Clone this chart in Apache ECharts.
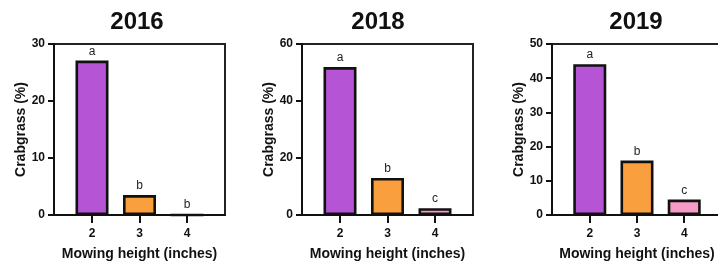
<!DOCTYPE html>
<html>
<head>
<meta charset="utf-8">
<script src="https://cdn.jsdelivr.net/npm/echarts@6/dist/echarts.min.js"></script>
<style>
html,body{margin:0;padding:0;background:#fff;}
#main{width:718px;height:263px;}
</style>
</head>
<body>
<div id="main"></div>
<script>
// 数据
var years = ['2016', '2018', '2019'];
var heights = [2, 3, 4];
var crab2016 = [27.1, 3.5, 0];
var crab2018 = [51.9, 13.0, 2.4];
var crab2019 = [44.1, 15.9, 4.5];
var letters2016 = ['a', 'b', 'b'];
var letters2018 = ['a', 'b', 'c'];
var letters2019 = ['a', 'b', 'c'];
var yMax = [30, 60, 50];
var yStep = [10, 20, 10];

var barColors = ['#B554D5', '#FA9F3E', '#F69AC6'];
var allData = [crab2016, crab2018, crab2019];
var allLetters = [letters2016, letters2018, letters2019];

// 每个面板的位置
var grids = [
    {left: 54, right: 493, top: 44, bottom: 48},
    {left: 302, right: 245, top: 44, bottom: 48},
    {left: 552, right: -4, top: 44, bottom: 48}
];
var titleX = [137, 378, 636];

var font = 'Liberation Sans, Arial, sans-serif';
var option = {
    animation: false,
    backgroundColor: '#fff',
    title: [],
    grid: [],
    xAxis: [],
    yAxis: [],
    series: []
};

for (var i = 0; i < 3; i++) {
    option.title.push({
        text: years[i],
        left: titleX[i],
        top: 10,
        padding: 0,
        textAlign: 'center',
        textStyle: {fontFamily: font, fontSize: 24, fontWeight: 'bold', color: '#111'}
    });
    option.grid.push({
        left: grids[i].left,
        right: grids[i].right,
        top: grids[i].top,
        bottom: grids[i].bottom,
        containLabel: false,
        outerBoundsMode: 'none',
        show: true,
        borderColor: '#222',
        borderWidth: 2
    });
    option.xAxis.push({
        type: 'value',
        gridIndex: i,
        min: 1.2,
        max: 4.8,
        name: 'Mowing height (inches)',
        nameLocation: 'middle',
        nameGap: 32,
        nameTextStyle: {fontFamily: font, fontSize: 14, fontWeight: 'bold', color: '#111'},
        splitLine: {show: false},
        axisLine: {show: true, lineStyle: {color: '#111', width: 2}},
        axisTick: {show: true, length: 8, customValues: heights, lineStyle: {color: '#111', width: 2}},
        axisLabel: {customValues: heights, margin: 13, fontFamily: font, fontSize: 12, fontWeight: 'bold', color: '#111'}
    });
    option.yAxis.push({
        type: 'value',
        gridIndex: i,
        min: 0,
        max: yMax[i],
        interval: yStep[i],
        name: 'Crabgrass (%)',
        nameLocation: 'middle',
        nameGap: 26,
        nameTextStyle: {fontFamily: font, fontSize: 14, fontWeight: 'bold', color: '#111'},
        splitLine: {show: false},
        axisLine: {show: true, lineStyle: {color: '#111', width: 2}},
        axisTick: {show: true, length: 6, lineStyle: {color: '#111', width: 2}},
        axisLabel: {margin: 9, fontFamily: font, fontSize: 12, fontWeight: 'bold', color: '#111'}
    });
    var d = [];
    for (var j = 0; j < heights.length; j++) {
        d.push({
            value: [heights[j], allData[i][j]],
            itemStyle: {color: barColors[j]},
            label: {formatter: allLetters[i][j]}
        });
    }
    option.series.push({
        type: 'bar',
        xAxisIndex: i,
        yAxisIndex: i,
        barWidth: 33,
        data: d,
        itemStyle: {borderColor: '#111', borderWidth: 2.6},
        label: {
            show: true,
            position: 'top',
            distance: 3,
            fontFamily: font,
            fontSize: 12,
            color: '#222'
        }
    });
}

var myChart = echarts.init(document.getElementById('main'));
myChart.setOption(option);
</script>
</body>
</html>
